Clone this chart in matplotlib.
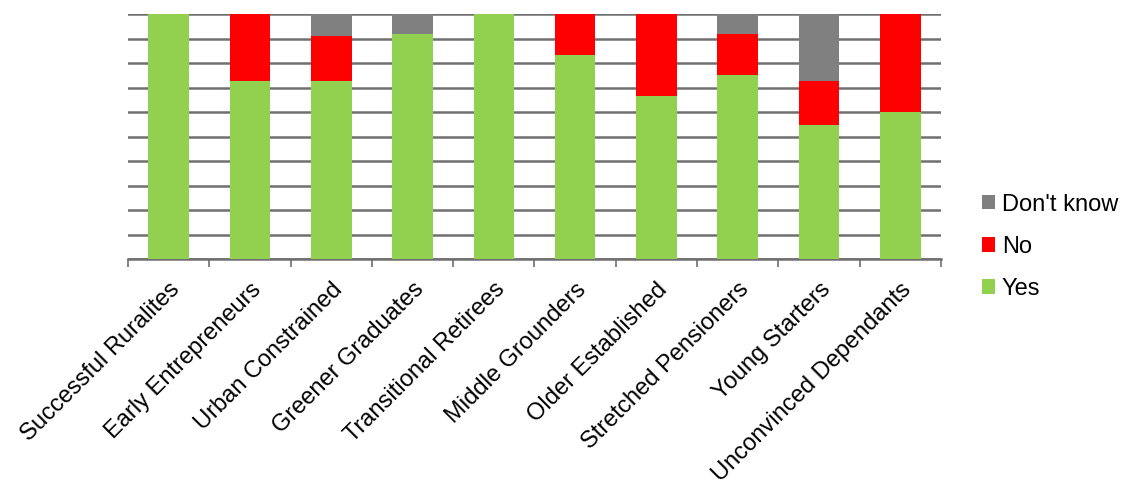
import numpy as np
import matplotlib.pyplot as plt

#%% data
segments = ['Successful Ruralites', 'Early Entrepreneurs', 'Urban Constrained',
            'Greener Graduates', 'Transitional Retirees', 'Middle Grounders',
            'Older Established', 'Stretched Pensioners', 'Young Starters',
            'Unconvinced Dependants']
yes = [100, 72.7, 72.7, 91.7, 100, 83.3, 66.7, 75.0, 54.5, 60.0]
no = [0, 27.3, 18.2, 0, 0, 16.7, 33.3, 16.7, 18.2, 40.0]
dont_know = [0, 0, 9.1, 8.3, 0, 0, 0, 8.3, 27.3, 0]

#%% plot
plt.rcParams['font.family'] = ['Liberation Sans', 'DejaVu Sans']
fig = plt.figure(figsize=(11.25, 4.8), dpi=100)
ax = fig.add_axes([0.1138, 0.4604, 0.7226, 0.5104])

x = np.arange(len(segments))
b_yes = ax.bar(x, yes, width=0.5, color='#92D050', label='Yes', zorder=3)
b_no = ax.bar(x, no, width=0.5, bottom=yes, color='#FF0000', label='No', zorder=3)
bottom2 = np.array(yes) + np.array(no)
b_dk = ax.bar(x, dont_know, width=0.5, bottom=bottom2, color='#808080',
              label="Don't know", zorder=3)

ax.set_xlim(-0.5, len(segments) - 0.5)
ax.set_ylim(0, 100)
ax.set_yticks(np.arange(0, 101, 10))
ax.set_yticklabels([])
ax.tick_params(axis='y', length=0)
ax.yaxis.grid(True, color='#707070', linewidth=1.8, zorder=0)

# tick marks between categories
ax.set_xticks(np.arange(-0.5, len(segments)), minor=False)
ax.set_xticklabels([])
ax.tick_params(axis='x', length=6, width=1.2, color='#707070')
ax.set_xticks(x, minor=True)
ax.set_xticklabels(segments, minor=True, rotation=45, ha='right',
                   rotation_mode='anchor', fontsize=17)
ax.tick_params(axis='x', which='minor', length=0, pad=14)

for s in ['top', 'right', 'left']:
    ax.spines[s].set_visible(False)
ax.spines['bottom'].set_color('#707070')
ax.spines['bottom'].set_linewidth(1.8)

ax.legend(handles=[b_dk, b_no, b_yes], loc='center left',
          bbox_to_anchor=(1.05, 0.05), frameon=False, fontsize=17,
          handlelength=0.55, handleheight=0.55, handletextpad=0.3,
          labelspacing=0.85, borderpad=0, borderaxespad=0)

fig.savefig('out.png', dpi=100)
